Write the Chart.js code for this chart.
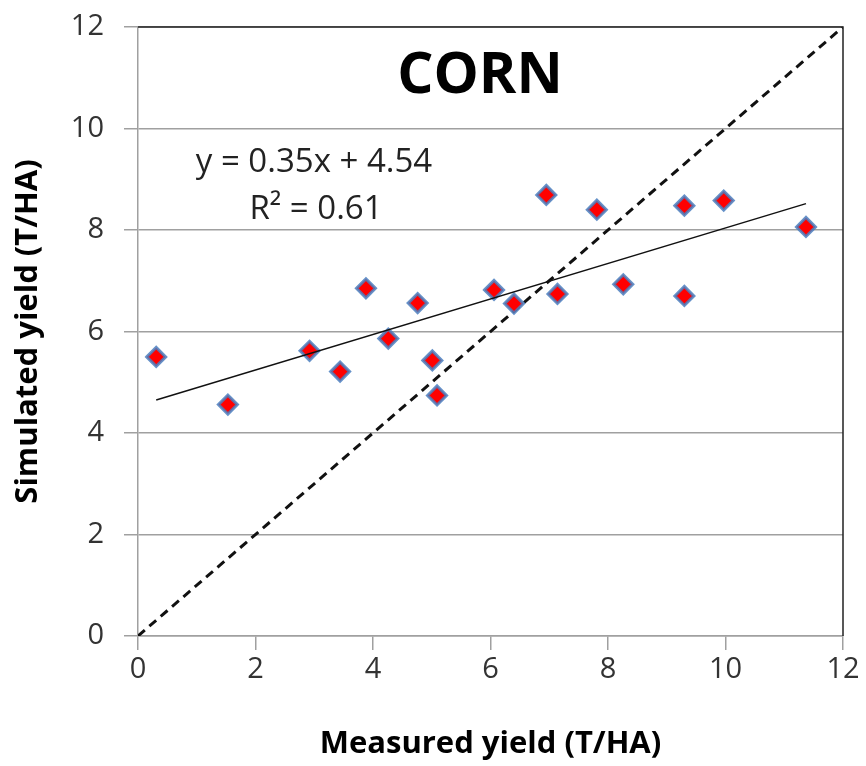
<!DOCTYPE html>
<html>
<head>
<meta charset="utf-8">
<script src="https://cdn.jsdelivr.net/npm/chart.js@4/dist/chart.umd.min.js"></script>
<style>
  html, body { margin: 0; padding: 0; background: #fff; }
  #wrap { width: 866px; height: 766px; }
</style>
</head>
<body>
<div id="wrap"><canvas id="cornChart" width="866" height="766"></canvas></div>
<script>
// measured vs simulated corn yield (T/HA)
const measured  = [0.31, 1.53, 2.92, 3.44, 3.88, 4.26, 4.76, 5.01, 5.09, 6.06, 6.40, 6.95, 7.14, 7.81, 8.26, 9.30, 9.30, 9.97, 11.37];
const simulated = [5.50, 4.56, 5.62, 5.21, 6.85, 5.86, 6.56, 5.43, 4.74, 6.82, 6.55, 8.69, 6.74, 8.40, 6.93, 8.48, 6.70, 8.58, 8.06];

// linear trend line ends and the 1:1 line
const trendX = [0.31, 11.37];
const trendY = [4.65, 8.52];
const oneToOneX = [0, 12];
const oneToOneY = [0, 12];

const axisTicks = [0, 2, 4, 6, 8, 10, 12];
const chartTitle = "CORN";
const eqText = "y = 0.35x + 4.54";
const r2Text = "R\u00B2 = 0.61";

const toXY = (xs, ys) => xs.map((x, i) => ({ x, y: ys[i] }));

const textPlugin = {
  id: "textPlugin",
  afterDraw(chart) {
    const { ctx, chartArea: a } = chart;
    ctx.save();
    // plot border top/right
    ctx.strokeStyle = "#222";
    ctx.lineWidth = 1.5;
    ctx.beginPath();
    ctx.moveTo(a.left, a.top);
    ctx.lineTo(a.right, a.top);
    ctx.lineTo(a.right, a.bottom);
    ctx.stroke();

    ctx.fillStyle = "#000";
    ctx.textAlign = "center";
    ctx.textBaseline = "middle";
    ctx.font = "bold 57px 'Open Sans'";
    ctx.fillText(chartTitle, 480, 77);

    ctx.fillStyle = "#222";
    ctx.font = "33px 'Open Sans'";
    ctx.fillText(eqText, 314, 163);
    ctx.fillText(r2Text, 316, 210);
    ctx.restore();
  }
};

new Chart(document.getElementById("cornChart"), {
  type: "scatter",
  data: {
    datasets: [
      {
        type: "line",
        data: toXY(trendX, trendY),
        borderColor: "#111",
        borderWidth: 1.5,
        pointRadius: 0,
        fill: false
      },
      {
        data: toXY(measured, simulated),
        pointStyle: "rectRot",
        pointRadius: 9.5,
        pointHoverRadius: 9.5,
        backgroundColor: "#ff0000",
        borderColor: "rgba(74,126,190,0.85)",
        borderWidth: 3
      },
      {
        type: "line",
        data: toXY(oneToOneX, oneToOneY),
        borderColor: "#111",
        borderWidth: 3,
        borderDash: [9, 6],
        pointRadius: 0,
        fill: false
      }
    ]
  },
  options: {
    responsive: false,
    animation: false,
    layout: { padding: { top: 27, right: 23, left: 0, bottom: 0 } },
    plugins: { legend: { display: false }, tooltip: { enabled: false } },
    scales: {
      x: {
        type: "linear",
        min: 0, max: 12,
        afterBuildTicks: s => { s.ticks = axisTicks.map(v => ({ value: v })); },
        afterFit: s => { s.height = 130; s.paddingLeft = 0; s.paddingRight = 0; },
        grid: { drawOnChartArea: false, drawTicks: true, tickLength: 14, color: "#a0a0a0", lineWidth: 1.5 },
        border: { color: "#a0a0a0", width: 1.5 },
        ticks: { color: "#333", padding: 2, font: { family: "'Open Sans'", size: 29 } },
        title: {
          display: true,
          text: "Measured yield (T/HA)",
          color: "#000",
          padding: { top: 0, bottom: 3 },
          font: { family: "'Open Sans'", size: 31, weight: "bold" }
        }
      },
      y: {
        min: 0, max: 12,
        afterBuildTicks: s => { s.ticks = axisTicks.map(v => ({ value: v })); },
        afterFit: s => { s.width = 138; s.paddingTop = 0; s.paddingBottom = 0; },
        grid: { drawTicks: true, tickLength: 14, color: "#a0a0a0", lineWidth: 1.5 },
        border: { color: "#a0a0a0", width: 1.5 },
        ticks: { color: "#333", padding: 20, font: { family: "'Open Sans'", size: 29 } },
        title: {
          display: true,
          text: "Simulated yield (T/HA)",
          color: "#000",
          padding: { top: 10, bottom: 0 },
          font: { family: "'Open Sans'", size: 31, weight: "bold" }
        }
      }
    }
  },
  plugins: [textPlugin]
});
</script>
</body>
</html>
